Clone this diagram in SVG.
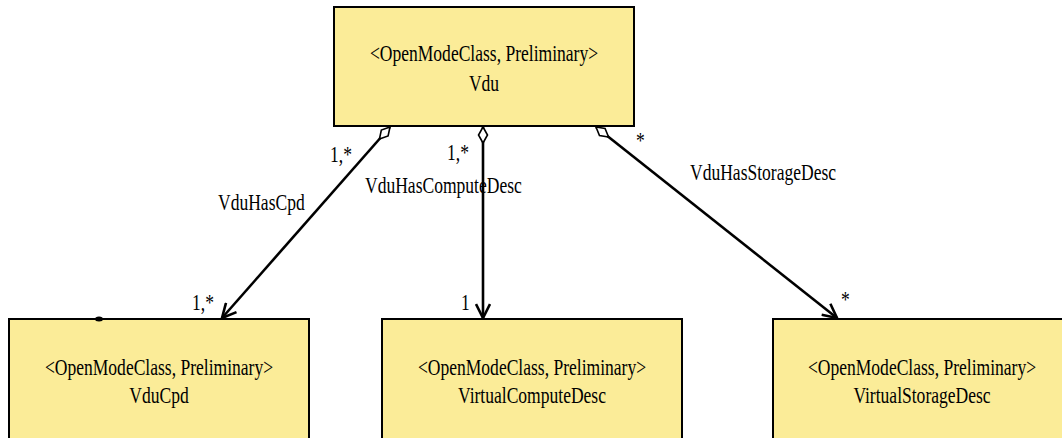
<svg xmlns="http://www.w3.org/2000/svg" width="1062" height="438" viewBox="0 0 1062 438">
<style>
.box{fill:#FBEC98;stroke:#000;stroke-width:2}
.t{font-family:"Liberation Serif","Times New Roman",serif;font-size:22.5px;fill:#000}
.c{text-anchor:middle}
.conn{stroke:#000;stroke-width:2.6;fill:none}
</style>
<defs>
<marker id="dia" markerUnits="userSpaceOnUse" markerWidth="20" markerHeight="12" viewBox="-1 -6 20 12" refX="0" refY="0" orient="auto">
<path d="M0,0 L8,-4.5 L16,0 L8,4.5 Z" fill="#fff" stroke="#000" stroke-width="1.6"/>
</marker>
<marker id="arr" markerUnits="userSpaceOnUse" markerWidth="18" markerHeight="16" viewBox="-16 -8 18 16" refX="0" refY="0" orient="auto">
<path d="M-14,-7 L0,0 L-14,7" fill="none" stroke="#000" stroke-width="2.6"/>
</marker>
</defs>
<rect width="1062" height="438" fill="#fff"/>
<g id="connectors">
<path class="conn" d="M390,127 L222,318" marker-start="url(#dia)" marker-end="url(#arr)"/>
<path class="conn" d="M483,127 L483,318" marker-start="url(#dia)" marker-end="url(#arr)"/>
<path class="conn" d="M596,127 L837,318" marker-start="url(#dia)" marker-end="url(#arr)"/>
<text class="t" transform="translate(330,162) scale(0.78,1)">1,*</text>
<text class="t" transform="translate(218,210) scale(0.78,1)">VduHasCpd</text>
<text class="t" transform="translate(192,310) scale(0.78,1)">1,*</text>
<text class="t" transform="translate(447,160) scale(0.78,1)">1,*</text>
<text class="t" transform="translate(365,193) scale(0.78,1)">VduHasComputeDesc</text>
<text class="t" transform="translate(461,310) scale(0.78,1)">1</text>
<text class="t" transform="translate(636,148) scale(0.78,1)">*</text>
<text class="t" transform="translate(690,180) scale(0.78,1)">VduHasStorageDesc</text>
<text class="t" transform="translate(841,307) scale(0.78,1)">*</text>
</g>
<g id="Vdu">
<rect class="box" x="334" y="7" width="300" height="119"/>
<text class="t c" transform="translate(484,61) scale(0.78,1)">&lt;OpenModeClass, Preliminary&gt;</text>
<text class="t c" transform="translate(484,91) scale(0.78,1)">Vdu</text>
</g>
<g id="VduCpd">
<rect class="box" x="9" y="319" width="300" height="130"/>
<ellipse cx="99" cy="319" rx="4" ry="2.5" fill="#000"/>
<text class="t c" transform="translate(159,375) scale(0.78,1)">&lt;OpenModeClass, Preliminary&gt;</text>
<text class="t c" transform="translate(159,403) scale(0.78,1)">VduCpd</text>
</g>
<g id="VirtualComputeDesc">
<rect class="box" x="382" y="319" width="300" height="130"/>
<text class="t c" transform="translate(532,375) scale(0.78,1)">&lt;OpenModeClass, Preliminary&gt;</text>
<text class="t c" transform="translate(532,403) scale(0.78,1)">VirtualComputeDesc</text>
</g>
<g id="VirtualStorageDesc">
<rect class="box" x="773" y="319" width="300" height="130"/>
<text class="t c" transform="translate(922,375) scale(0.78,1)">&lt;OpenModeClass, Preliminary&gt;</text>
<text class="t c" transform="translate(922,403) scale(0.78,1)">VirtualStorageDesc</text>
</g>
</svg>
